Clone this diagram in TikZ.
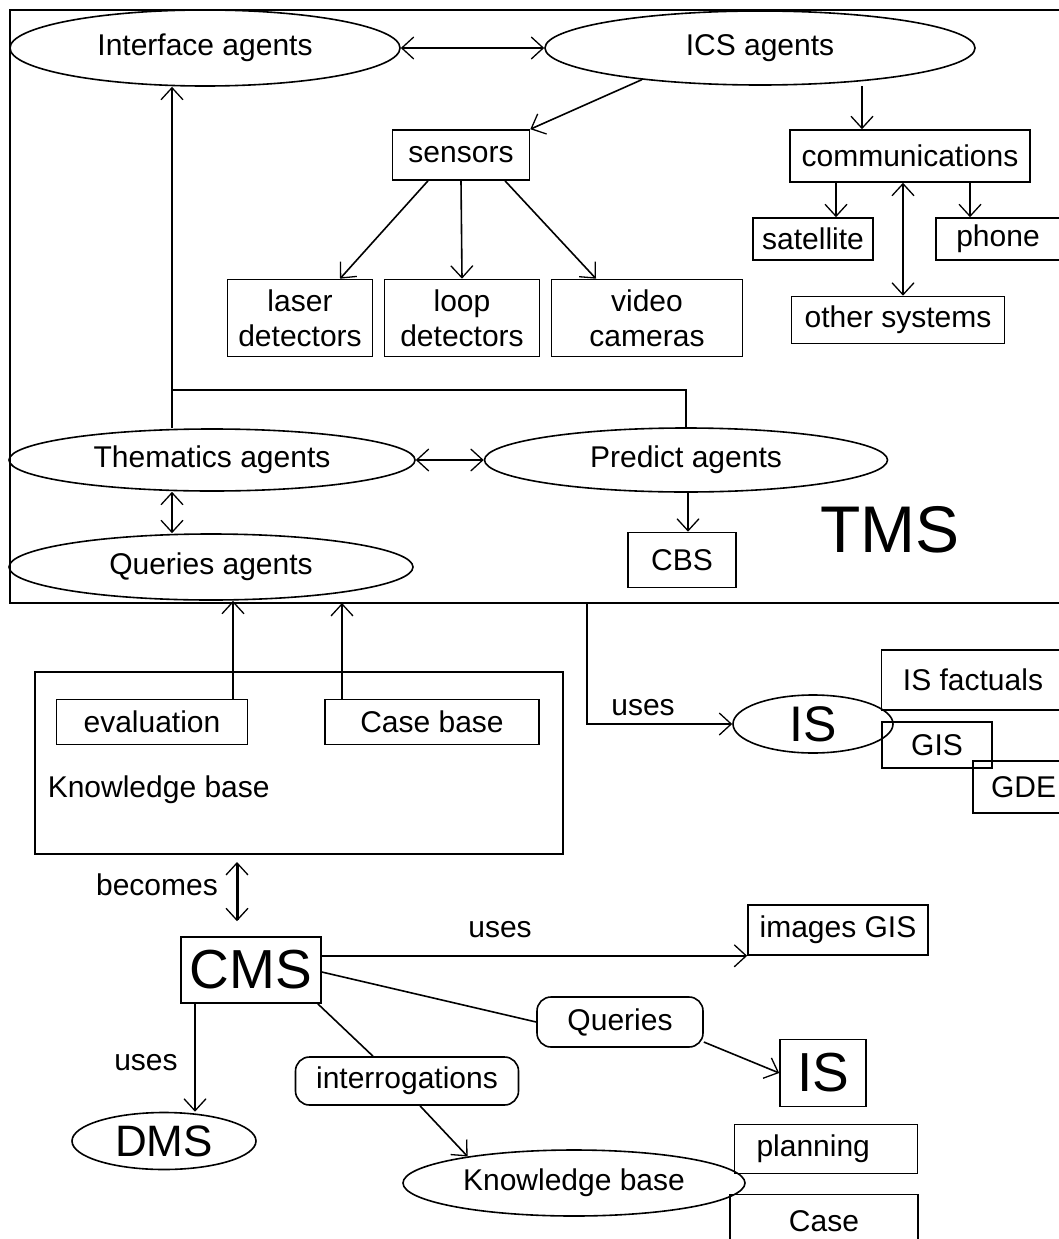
\documentclass[tikz,border=0pt]{standalone}
\usepackage{fontspec}
\setmainfont{Liberation Sans}
\usetikzlibrary{shapes.geometric, arrows.meta}

\begin{document}
\begin{tikzpicture}[x=1pt, y=-1pt, line width=1.6pt,
    font=\fontsize{30}{35}\selectfont,
    ell/.style={ellipse, draw, inner sep=0pt},
    box/.style={rectangle, draw, inner sep=0pt, align=center},
    rbox/.style={rectangle, draw, rounded corners=14pt, inner sep=0pt},
    lbl/.style={inner sep=0pt},
    big/.style={font=\fontsize{55}{60}\selectfont},
    arr/.style={-{Straight Barb[length=12pt,width=22pt,line width=1.3pt]}},
    both/.style={{Straight Barb[length=12pt,width=22pt,line width=1.3pt]}-{Straight Barb[length=12pt,width=22pt,line width=1.3pt]}}]
    \useasboundingbox (0,0) rectangle (1059,1239);
    \clip (0,0) rectangle (1059,1239);

    % TMS frame
    \draw (1059,10) -- (10,10) -- (10,603) -- (1059,603);
    \node[lbl, font=\fontsize{66}{70}\selectfont] (tms) at (890,530) {TMS};

    \node[ell, minimum width=390, minimum height=76] (iface) at (205,48) {Interface agents};
    \node[ell, minimum width=430, minimum height=74] (ics) at (760,48) {ICS agents};
    \node[box, minimum width=137, minimum height=50] (sensors) at (461,155) {sensors};
    \node[box, minimum width=240, minimum height=52] (comm) at (910,156) {communications};
    \node[box, minimum width=120, minimum height=42] (sat) at (813,239) {satellite};
    \node[box, minimum width=124, minimum height=42] (phone) at (998,239) {phone};
    \node[box, minimum width=213, minimum height=47] (other) at (898,320) {other systems};
    \node[box, minimum width=145, minimum height=77] (laser) at (300,318) {laser\\detectors};
    \node[box, minimum width=155, minimum height=77] (loop) at (462,318) {loop\\detectors};
    \node[box, minimum width=191, minimum height=77] (video) at (647,318) {video\\cameras};
    \node[ell, minimum width=406, minimum height=62] (them) at (212,460) {Thematics agents};
    \node[ell, minimum width=403, minimum height=64] (pred) at (686,460) {Predict agents};
    \node[ell, minimum width=404, minimum height=66] (queries) at (211,567) {Queries agents};
    \node[box, minimum width=108, minimum height=55] (cbs) at (682,560) {CBS};

    \draw[both] (iface) -- (ics);
    \draw[arr] (ics.195) -- (sensors.north east);
    \draw[arr] ([xshift=102pt]ics.south) -- ([xshift=-48pt]comm.north);
    \draw[arr] ([xshift=-74pt]comm.south) -- ([xshift=23pt]sat.north);
    \draw[arr] ([xshift=60pt]comm.south) -- ([xshift=-28pt]phone.north);
    \draw[both] ([xshift=-7pt]comm.south) -- ([xshift=5pt]other.north);
    \draw[arr] ([xshift=-33pt]sensors.south) -- ([xshift=40pt]laser.north);
    \draw[arr] (sensors.south) -- (loop.north);
    \draw[arr] ([xshift=44pt]sensors.south) -- ([xshift=-51pt]video.north);
    \draw[arr] ([xshift=-40pt]them.north) -- ([xshift=-33pt]iface.south);
    \coordinate (kink) at (172,390);
    \draw (kink) -| (pred.north);
    \draw[both] (them.east) -- (pred.west);
    \draw[both] ([xshift=-40pt]them.south) -- ([xshift=-39pt]queries.north);
    \draw[arr] ([xshift=2pt]pred.south) -- ([xshift=6pt]cbs.north);

    % knowledge base and IS
    \node[box, minimum width=528, minimum height=182] (kbox) at (299,763) {};
    \node[lbl, anchor=west] (kbtext) at (47,790) {Knowledge base};
    \node[box, minimum width=191, minimum height=45] (eval) at (152,722) {evaluation};
    \node[box, minimum width=214, minimum height=45] (casebase) at (432,722) {Case base};
    \coordinate (cbup) at (342,603);
    \coordinate (usesout) at (587,603);
    \draw[arr] ([xshift=81pt]eval.north) -- ([xshift=22pt]queries.south);
    \draw[arr] (cbup |- casebase.north) -- (cbup);

    \node[box, minimum width=183, minimum height=60] (isfact) at (973,680) {IS factuals};
    \node[box, minimum width=110, minimum height=46] (gis) at (937,745) {GIS};
    \node[box, align=left, inner xsep=18pt, text width=70pt, minimum height=52] (gde) at (1026,787) {GDE};
    \node[ell, minimum width=160, minimum height=58, font=\fontsize{50}{55}\selectfont] (isell) at (813,724) {IS};
    \draw[arr] (usesout) |- (isell.west);
    \node[lbl] (uses1) at (643,708) {uses};

    % CMS part
    \node[lbl] (becomes) at (157,885) {becomes};
    \node[box, big, minimum width=140, minimum height=66] (cms) at (251,970) {CMS};
    \draw[both, line width=3pt] (237,862) -- ([xshift=-14pt, yshift=15pt]cms.north);
    \node[box, minimum width=180, minimum height=50] (images) at (838,930) {images GIS};
    \node[lbl] (uses2) at (500,930) {uses};
    \draw[arr] (cms.east |- images.south west) -- (images.south west);
    \node[rbox, minimum width=166, minimum height=50] (qry) at (620,1022) {Queries};
    \node[box, big, minimum width=86, minimum height=67] (is) at (823,1073) {IS};
    \draw ([yshift=-2pt]cms.east) -- (qry.west);
    \draw[arr] ([yshift=-20pt]qry.east) -- (is.west);
    \node[rbox, minimum width=223, minimum height=48] (interr) at (407,1081) {interrogations};
    \node[ell, minimum width=342, minimum height=66] (kb) at (574,1183) {Knowledge base};
    \draw ([xshift=-4pt]cms.south east) -- ([xshift=-34pt]interr.north);
    \draw[arr] ([xshift=13pt]interr.south) -- (kb.166);
    \node[ell, minimum width=184, minimum height=57, font=\fontsize{44}{48}\selectfont] (dms) at (164,1141) {DMS};
    \draw[arr] ([xshift=-56pt]cms.south) -- ([xshift=31pt]dms.north);
    \node[lbl] (uses3) at (146,1063) {uses};
    \node[box, align=left, inner xsep=22pt, text width=139pt, minimum height=49] (planning) at (826,1149) {planning};
    \node[box, minimum width=188, minimum height=53] (case) at (824,1221) {Case};
\end{tikzpicture}
\end{document}
